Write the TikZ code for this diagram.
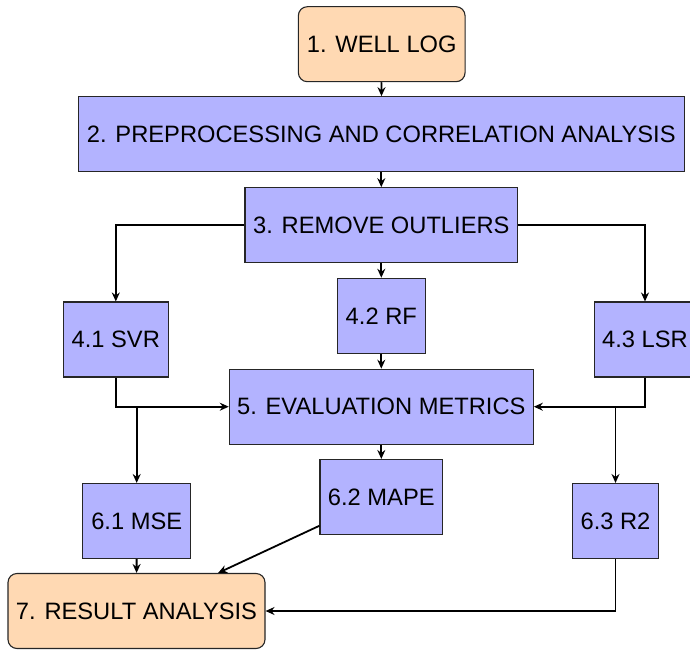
\documentclass[tikz,border=0pt]{standalone}
\usepackage{fontspec}
\setmainfont{Liberation Sans}
\usetikzlibrary{arrows.meta}
\definecolor{stepblue}{HTML}{B3B3FF}
\definecolor{steppeach}{HTML}{FFD9B3}
\begin{document}
\begin{tikzpicture}[x=1pt,y=-1pt,
  box/.style={draw=black!85,line width=1.1pt,fill=stepblue,inner sep=0pt,
    minimum height=75pt,font=\fontsize{23.7}{28}\selectfont,text=black},
  endbox/.style={box,fill=steppeach,rounded corners=9pt},
  link/.style={line width=1.8pt,-{Stealth[length=9pt,width=8pt,inset=3pt]}}]
\useasboundingbox (0,0) rectangle (690,650);

% process steps
\node[endbox,minimum width=166.7pt] (well)   at (381.7,44.2)  {1. WELL LOG};
\node[box,minimum width=606pt]      (prep)   at (381.3,134.2) {2. PREPROCESSING AND CORRELATION ANALYSIS};
\node[box,minimum width=272.7pt]    (outl)   at (381.3,225.2) {3. REMOVE OUTLIERS};
\node[box,minimum width=105pt]      (svr)    at (115.8,339.5) {4.1 SVR};
\node[box,minimum width=88pt]       (rf)     at (381.3,315.8) {4.2 RF};
\node[box,minimum width=101.4pt]    (lsr)    at (645,339.5)   {4.3 LSR};
\node[box,minimum width=304pt]      (eval)   at (381.3,406.7) {5. EVALUATION METRICS};
\node[box,minimum width=108pt]      (mse)    at (136.7,521)   {6.1 MSE};
\node[box,minimum width=122.6pt]    (mape)   at (381.3,497)   {6.2 MAPE};
\node[box,minimum width=86.4pt]     (rtwo)   at (615.5,521)   {6.3 R2};
\node[endbox,minimum width=257pt]   (result) at (136.5,611)   {7. RESULT ANALYSIS};

% connectors
\draw[link] (well) -- (prep);
\draw[link] (prep) -- (outl);
\draw[link] (outl.west) -| (svr.north);
\draw[link] (outl) -- (rf);
\draw[link] (outl.east) -| (lsr.north);
\draw[link] (rf) -- (eval);
\draw[link] (svr.south) |- (eval.west);
\draw[link] (lsr.south) |- (eval.east);
\draw[link] (eval.west -| mse.north) -- (mse);
\draw[link] (eval) -- (mape);
\draw[link] (eval.east -| rtwo.north) -- (rtwo);
\draw[link] (mse) -- (result);
\draw[link] (mape) -- (result);
\draw[link] (rtwo.south) |- (result.east);
\end{tikzpicture}
\end{document}
